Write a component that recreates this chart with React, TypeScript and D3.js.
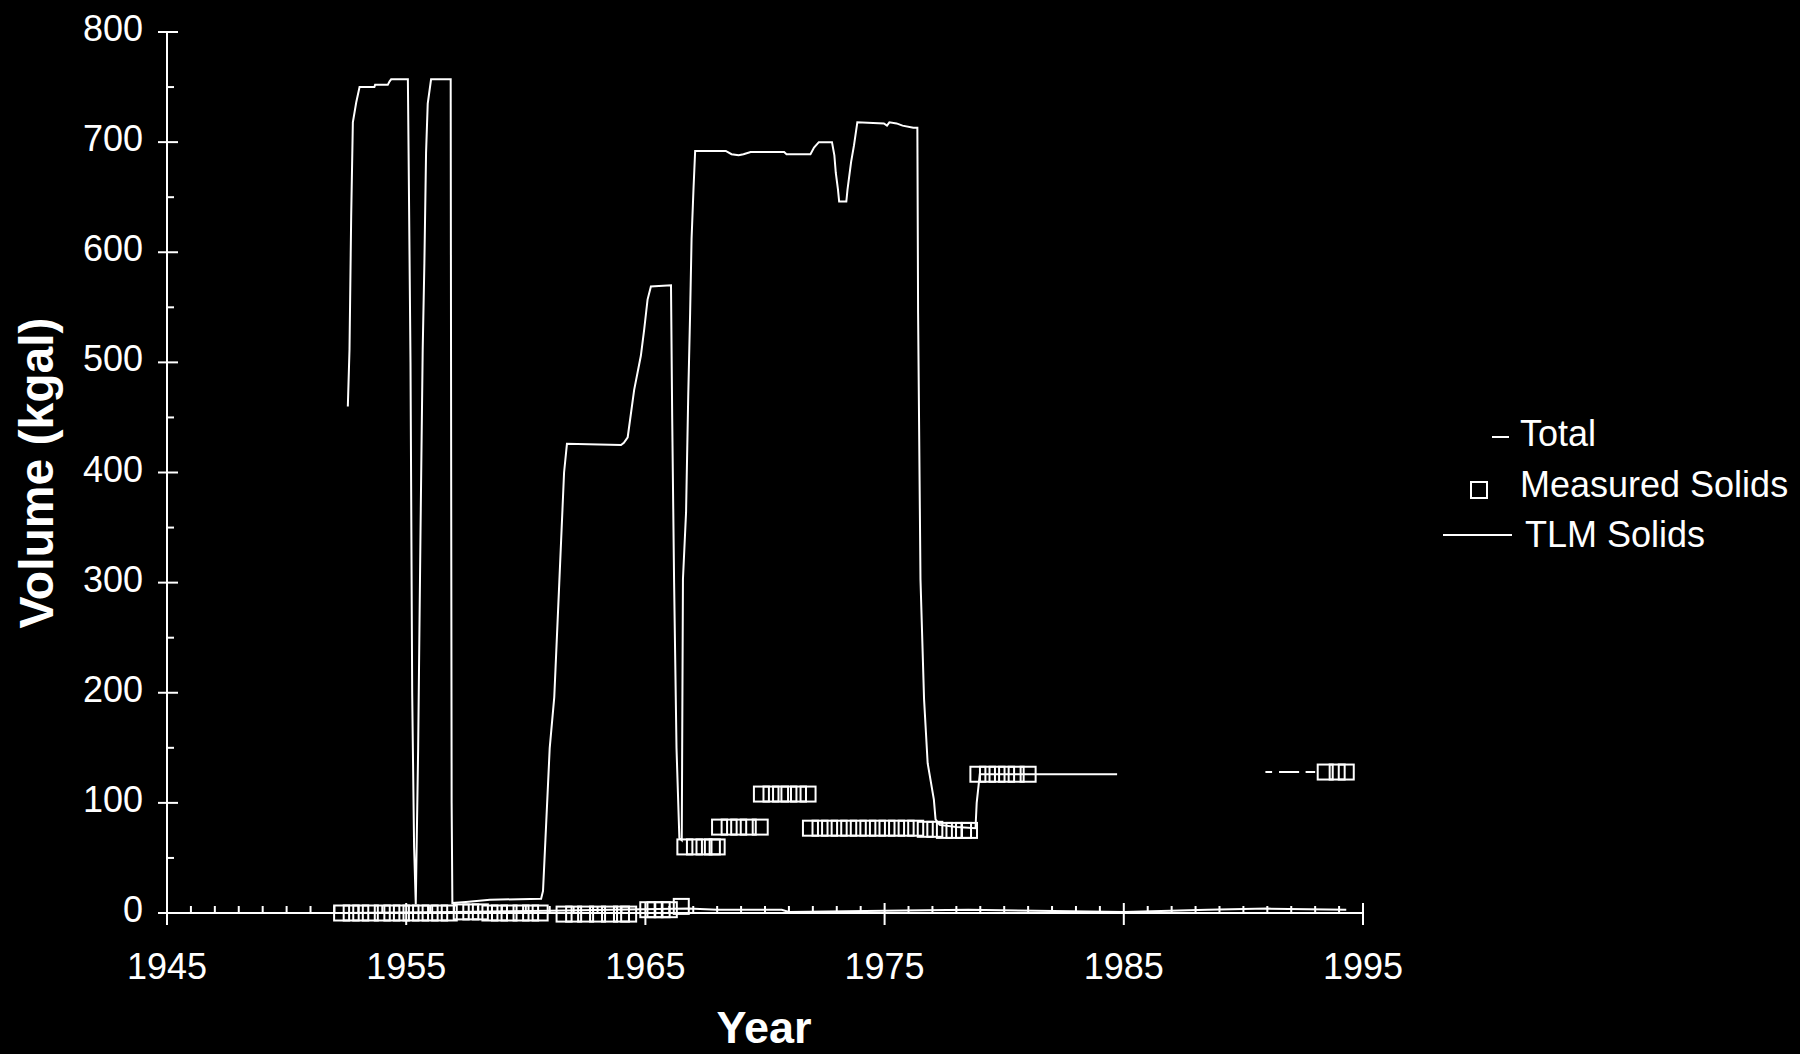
import React from "react";
import * as d3 from "d3";

// ---------- data ----------
const xTickYears = [1945, 1955, 1965, 1975, 1985, 1995];
const yTickValues = [0, 100, 200, 300, 400, 500, 600, 700, 800];
const yMinorValues = [50, 150, 250, 350, 450, 550, 650, 750];

// "Total" (NaN = gap)
const totalYears = [
  1952.56, 1952.63, 1952.7, 1952.77, 1952.91, 1953.05, 1953.67, 1953.7, 1954.23, 1954.3, 1954.37, 1955.07,
  1955.1, 1955.18, 1955.25, 1955.33, 1955.4, 1955.5, 1955.6, 1955.69, 1955.76, 1955.83, 1955.9, 1956.04,
  1956.86, 1956.88, 1956.9, 1956.93, 1957.5, 1958.5, 1960.64, 1960.72, 1961.0, 1961.19, 1961.4, 1961.6,
  1961.72, 1963.98, 1964.1, 1964.26, 1964.53, 1964.81, 1964.95, 1965.09, 1965.23, 1966.07, 1966.12, 1966.2,
  1966.3, 1966.42, 1966.52, 1966.57, 1966.7, 1966.79, 1966.87, 1966.93, 1967.01, 1967.08, 1968.36, 1968.6,
  1968.9, 1969.1, 1969.4, 1970.8, 1970.9, 1971.9, 1972.05, 1972.25, 1972.8, 1972.9, 1972.96, 1973.05,
  1973.1, 1973.4, 1973.45, 1973.6, 1973.72, 1973.84, 1973.86, 1974.97, 1975.1, 1975.2, 1975.5, 1975.75,
  1976.2, 1976.37, 1976.4, 1976.5, 1976.65, 1976.8, 1977.06, 1977.13, 1977.3, 1978.0, 1978.8, 1978.85,
  1978.98, 1984.72,
  1985.0,
  1990.92, 1991.2, 1991.3, 1991.49, 1992.33, 1992.45, 1992.6, 1993.0,
];
const totalValues = [
  460, 512, 633, 718, 736, 750, 750, 752, 752, 755, 757, 757,
  690, 500, 200, 60, 8, 150, 350, 512, 590, 690, 735, 757,
  757, 400, 100, 9, 10, 12, 13, 20, 150, 196, 300, 400,
  426, 425, 427, 432, 475, 506, 530, 557, 569, 570, 450, 300,
  150, 68, 66, 303, 364, 469, 545, 612, 657, 692, 692, 689,
  688, 689, 691, 691, 689, 689, 695, 700, 700, 688, 672, 657,
  646, 646, 657, 682, 697, 715, 718, 717, 715, 718, 717, 715,
  713, 713, 545, 303, 194, 136, 103, 85, 80, 78, 77, 100,
  126, 126,
  NaN,
  128, 128, NaN, 128, 128, NaN, 128, 128,
];

// "Measured Solids"
const measuredYears = [
  1952.3, 1952.7, 1953.1, 1953.5, 1954.0, 1954.4, 1954.8, 1955.2, 1955.6, 1956.0, 1956.4, 1956.8,
  1957.3, 1957.7, 1958.1, 1958.5, 1958.9, 1959.3, 1959.8, 1960.2, 1960.6,
  1961.6, 1962.0, 1962.5, 1963.0, 1963.5, 1964.0, 1964.3,
  1965.1, 1965.4, 1965.7, 1966.0, 1966.5,
  1966.65, 1967.05, 1967.45, 1967.8, 1968.0,
  1968.1, 1968.5, 1968.9, 1969.3, 1969.8,
  1969.85, 1970.25, 1970.65, 1971.0, 1971.4, 1971.8,
  1971.9, 1972.3, 1972.7, 1973.1, 1973.5, 1973.9, 1974.3, 1974.7, 1975.1, 1975.5, 1975.9, 1976.3,
  1976.7, 1977.1, 1977.5, 1977.9, 1978.3, 1978.55,
  1978.9, 1979.3, 1979.7, 1980.1, 1980.5, 1981.0,
  1993.42, 1993.92, 1994.3,
];
const measuredValues = [
  0, 0, 0, 0, 0, 0, 0, 0, 0, 0, 0, 0,
  1, 1, 1, 0, 0, 0, 0, 0, 0,
  -1, -1, -1, -1, -1, -1, -1,
  3, 3, 3, 3, 6,
  60, 60, 60, 60, 60,
  78, 78, 78, 78, 78,
  108, 108, 108, 108, 108, 108,
  77, 77, 77, 77, 77, 77, 77, 77, 77, 77, 77, 77,
  76, 76, 75, 75, 75, 75,
  126, 126, 126, 126, 126, 126,
  128, 128, 128,
];

// "TLM Solids"
const tlmYears = [1952.3, 1957.0, 1961.0, 1966.8, 1968.0, 1970.7, 1971.0, 1975.0, 1978.5, 1981.3, 1985.0, 1988.5, 1991.0, 1994.3];
const tlmValues = [0, 1, 2, 4, 3, 3, 1, 2, 3, 2, 1, 3, 4, 3];

const legendItems = ["Total", "Measured Solids", "TLM Solids"];

const FONT = "'Liberation Sans', Arial, Helvetica, sans-serif";

export default function App() {
  const x = d3.scaleLinear().domain([1945, 1995]).range([167, 1363]);
  const y = d3.scaleLinear().domain([0, 800]).range([913, 32]);

  const line = d3
    .line<[number, number]>()
    .defined((d) => !isNaN(d[1]))
    .x((d) => x(d[0]))
    .y((d) => y(d[1]));

  const totalPts = totalYears.map((t, i) => [t, totalValues[i]] as [number, number]);
  const tlmPts = tlmYears.map((t, i) => [t, tlmValues[i]] as [number, number]);
  const minorYears = d3.range(1946, 1995).filter((t) => !xTickYears.includes(t));

  const sq = 15;
  const white = "#fff";

  return (
    <div style={{ position: "fixed", left: 0, top: 0, width: 1800, height: 1054, background: "#000" }}>
      <svg width={1800} height={1054} style={{ display: "block", background: "#000" }}>
        {/* axes */}
        <g stroke={white} strokeWidth={2} fill="none">
          <line x1={x(1945)} x2={x(1945)} y1={y(800)} y2={y(0)} />
          <line x1={x(1945)} x2={x(1995)} y1={y(0)} y2={y(0)} />
          {yTickValues.map((v) => (
            <line key={"ym" + v} x1={x(1945) - 9} x2={x(1945) + 11} y1={y(v)} y2={y(v)} />
          ))}
          {yMinorValues.map((v) => (
            <line key={"yn" + v} x1={x(1945)} x2={x(1945) + 7} y1={y(v)} y2={y(v)} />
          ))}
          {xTickYears.map((t) => (
            <line key={"xm" + t} x1={x(t)} x2={x(t)} y1={y(0) - 10} y2={y(0) + 12} />
          ))}
          {minorYears.map((t) => (
            <line key={"xn" + t} x1={x(t)} x2={x(t)} y1={y(0) - 7} y2={y(0)} />
          ))}
        </g>

        {/* tick labels */}
        <g fill={white} fontFamily={FONT} fontSize={36}>
          {yTickValues.map((v) => (
            <text key={"yl" + v} x={143} y={y(v) + 9} textAnchor="end">
              {v}
            </text>
          ))}
          {xTickYears.map((t) => (
            <text key={"xl" + t} x={x(t)} y={979} textAnchor="middle">
              {t}
            </text>
          ))}
        </g>

        {/* axis titles */}
        <text
          transform={`translate(53,473) rotate(-90)`}
          textAnchor="middle"
          fill={white}
          fontFamily={FONT}
          fontWeight="bold"
          fontSize={48}
        >
          Volume (kgal)
        </text>
        <text x={764} y={1043} textAnchor="middle" fill={white} fontFamily={FONT} fontWeight="bold" fontSize={45}>
          Year
        </text>

        {/* TLM Solids */}
        <path d={line(tlmPts) || ""} fill="none" stroke={white} strokeWidth={2} />

        {/* Measured Solids */}
        <g fill="none" stroke={white} strokeWidth={2}>
          {measuredYears.map((t, i) => (
            <rect key={"m" + i} x={x(t) - sq / 2} y={y(measuredValues[i]) - sq / 2} width={sq} height={sq} />
          ))}
        </g>

        {/* Total */}
        <path d={line(totalPts) || ""} fill="none" stroke={white} strokeWidth={2} strokeLinejoin="miter" />

        {/* legend */}
        <g fill={white} fontFamily={FONT} fontSize={36}>
          <line x1={1492} x2={1509} y1={437} y2={437} stroke={white} strokeWidth={2} />
          <text x={1520} y={446}>{legendItems[0]}</text>
          <rect x={1471} y={482} width={16} height={16} fill="none" stroke={white} strokeWidth={2} />
          <text x={1520} y={497}>{legendItems[1]}</text>
          <line x1={1443} x2={1512} y1={535} y2={535} stroke={white} strokeWidth={2} />
          <text x={1525} y={547}>{legendItems[2]}</text>
        </g>
      </svg>
    </div>
  );
}
